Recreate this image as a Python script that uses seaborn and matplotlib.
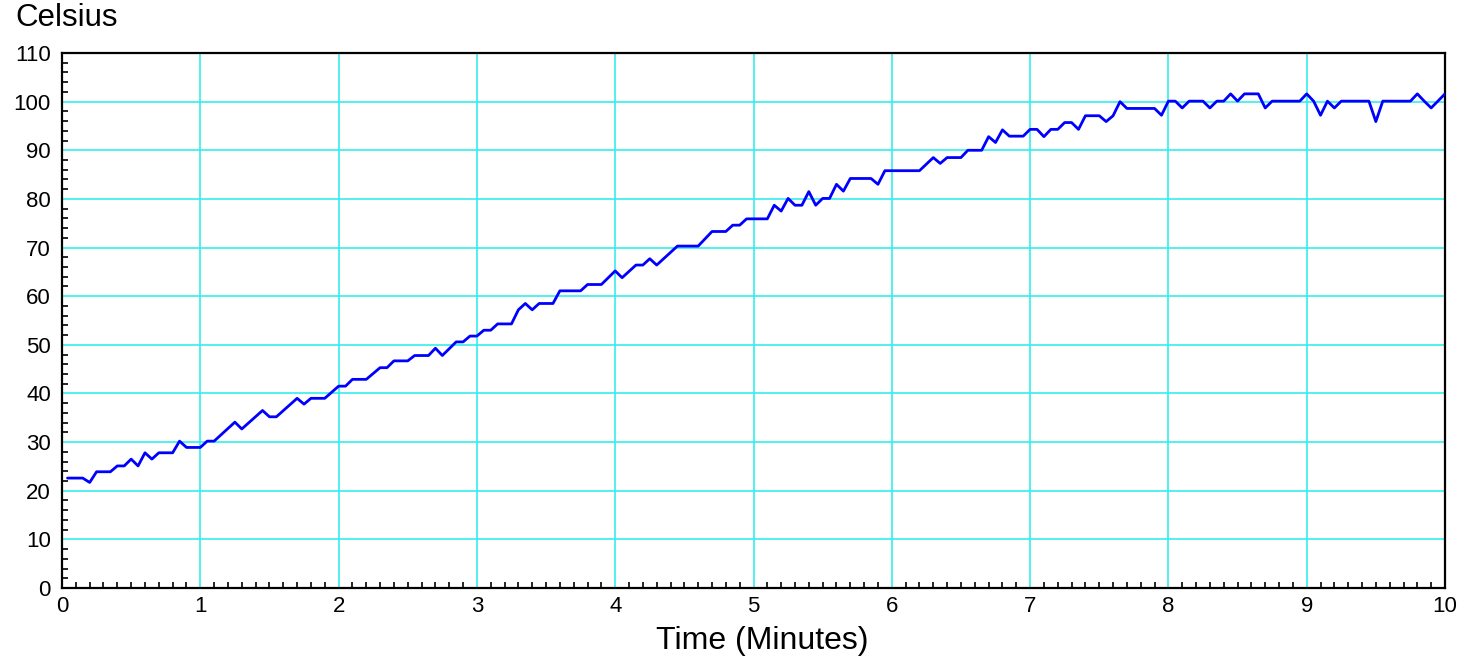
import pandas as pd
import matplotlib.pyplot as plt
import seaborn as sns
from matplotlib.ticker import MultipleLocator


# readings taken off the chart (minutes, degrees C)
time_min = [
    0.04, 0.15, 0.20, 0.25, 0.35, 0.40, 0.45, 0.50, 0.55, 0.60,
    0.65, 0.70, 0.80, 0.85, 0.90, 1.00, 1.05, 1.10, 1.25, 1.30,
    1.45, 1.50, 1.55, 1.70, 1.75, 1.80, 1.90, 2.00, 2.05, 2.10,
    2.20, 2.30, 2.35, 2.40, 2.50, 2.55, 2.65, 2.70, 2.75, 2.85,
    2.90, 2.95, 3.00, 3.05, 3.10, 3.15, 3.25, 3.30, 3.35, 3.40,
    3.45, 3.55, 3.60, 3.75, 3.80, 3.90, 4.00, 4.05, 4.15, 4.20,
    4.25, 4.30, 4.45, 4.60, 4.70, 4.80, 4.85, 4.90, 4.95, 5.10,
    5.15, 5.20, 5.25, 5.30, 5.35, 5.40, 5.45, 5.50, 5.55, 5.60,
    5.65, 5.70, 5.85, 5.90, 5.95, 6.20, 6.30, 6.35, 6.40, 6.50,
    6.55, 6.65, 6.70, 6.75, 6.80, 6.85, 6.95, 7.00, 7.05, 7.10,
    7.15, 7.20, 7.25, 7.30, 7.35, 7.40, 7.50, 7.55, 7.60, 7.65,
    7.70, 7.90, 7.95, 8.00, 8.05, 8.10, 8.15, 8.25, 8.30, 8.35,
    8.40, 8.45, 8.50, 8.55, 8.65, 8.70, 8.75, 8.95, 9.00, 9.05,
    9.10, 9.15, 9.20, 9.25, 9.45, 9.50, 9.55, 9.75, 9.80, 9.85,
    9.90, 10.00,
]
celsius = [
    22.6, 22.6, 21.7, 23.9, 23.9, 25.1, 25.1, 26.5, 25.1, 27.8,
    26.5, 27.8, 27.8, 30.2, 28.9, 28.9, 30.2, 30.2, 34.1, 32.7,
    36.5, 35.2, 35.2, 39.0, 37.8, 39.0, 39.0, 41.5, 41.5, 42.9,
    42.9, 45.3, 45.3, 46.7, 46.7, 47.8, 47.8, 49.3, 47.8, 50.6,
    50.6, 51.8, 51.8, 53.0, 53.0, 54.3, 54.3, 57.2, 58.5, 57.2,
    58.5, 58.5, 61.1, 61.1, 62.4, 62.4, 65.2, 63.8, 66.4, 66.4,
    67.7, 66.4, 70.3, 70.3, 73.3, 73.3, 74.6, 74.6, 75.9, 75.9,
    78.7, 77.5, 80.1, 78.7, 78.7, 81.5, 78.7, 80.1, 80.1, 83.0,
    81.6, 84.2, 84.2, 83.0, 85.8, 85.8, 88.5, 87.3, 88.5, 88.5,
    90.0, 90.0, 92.8, 91.6, 94.2, 92.9, 92.9, 94.3, 94.3, 92.8,
    94.3, 94.3, 95.7, 95.7, 94.3, 97.1, 97.1, 95.9, 97.1, 100.0,
    98.6, 98.6, 97.2, 100.1, 100.1, 98.7, 100.1, 100.1, 98.7, 100.1,
    100.1, 101.6, 100.1, 101.6, 101.6, 98.7, 100.1, 100.1, 101.6, 100.1,
    97.2, 100.1, 98.7, 100.1, 100.1, 95.9, 100.1, 100.1, 101.6, 100.1,
    98.7, 101.6,
]

df = pd.DataFrame({"Time": time_min, "Celsius": celsius})

sns.set_style("white")
plt.rcParams.update({
    "font.family": ["Liberation Sans", "DejaVu Sans"],
    "text.color": "black",
    "axes.labelcolor": "black",
    "xtick.color": "black",
    "ytick.color": "black",
})

fig = plt.figure(figsize=(14.64, 6.58), dpi=100)
ax = fig.add_axes([62 / 1464, 1 - 588 / 658, (1445 - 62) / 1464, (588 - 53) / 658])

sns.lineplot(data=df, x="Time", y="Celsius", ax=ax, color="#0000ff",
             linewidth=2.0, estimator=None, sort=False, zorder=3)

ax.set_xlim(0, 10)
ax.set_ylim(0, 110)
ax.xaxis.set_major_locator(MultipleLocator(1))
ax.xaxis.set_minor_locator(MultipleLocator(0.1))
ax.yaxis.set_major_locator(MultipleLocator(10))
ax.yaxis.set_minor_locator(MultipleLocator(2))

ax.grid(True, which="major", color="#33eeee", linewidth=1.2)
ax.set_axisbelow(True)

ax.tick_params(which="both", direction="in", width=1.2,
               bottom=True, left=True, top=False, right=False)
ax.tick_params(which="major", length=0, labelsize=16)
ax.tick_params(which="minor", length=4.5)
ax.tick_params(axis="y", which="major", pad=8)
ax.tick_params(axis="x", which="major", pad=6)

for s in ax.spines.values():
    s.set_color("black")
    s.set_linewidth(1.6)

ax.set_xlabel("Time (Minutes)", fontsize=23, labelpad=6)
ax.xaxis.label.set_x(0.506)
ax.set_ylabel("")
fig.text(15 / 1464, 1 - 3 / 658, "Celsius", fontsize=22.5, ha="left", va="top")

plt.savefig("out.png", dpi=100)
